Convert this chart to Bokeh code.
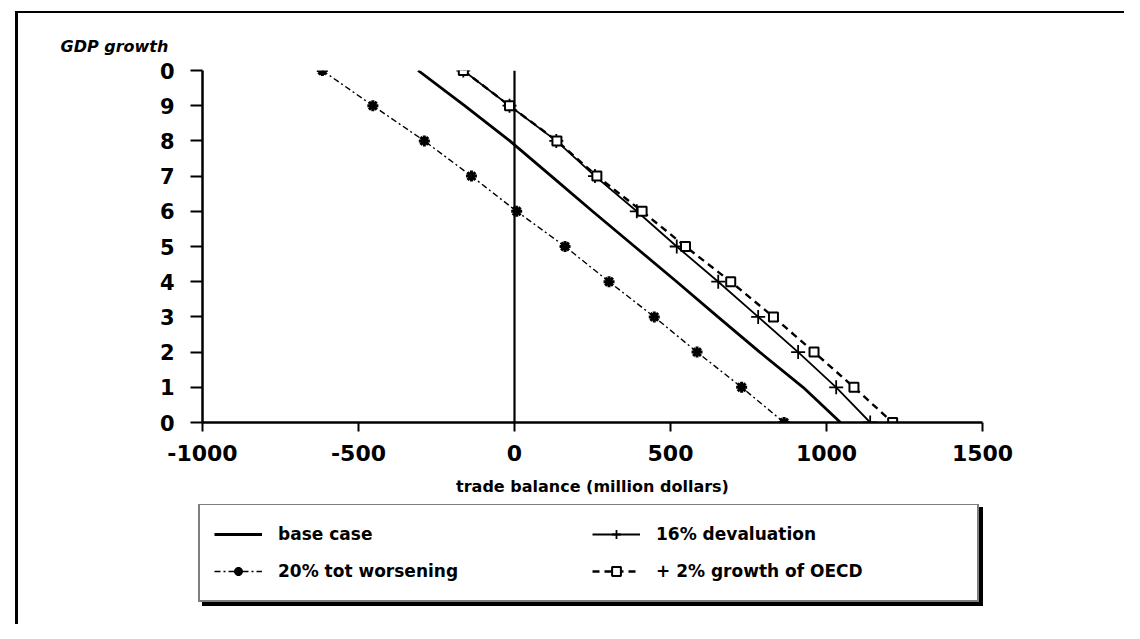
from bokeh.plotting import figure
from bokeh.models import Legend, LegendItem, Span, FixedTicker
from bokeh.layouts import column
from bokeh.embed import file_html
from bokeh.resources import INLINE

# GDP growth levels (y) and trade balance (million dollars) for each scenario
growth = [10, 9, 8, 7, 6, 5, 4, 3, 2, 1, 0]
base_case = [-309, -160, -15, 118, 250, 385, 520, 652, 786, 925, 1045]
devaluation_16 = [-164, -16, 134, 258, 392, 520, 653, 781, 909, 1031, 1140]
tot_worsening_20 = [-616, -454, -289, -138, 7, 162, 303, 448, 585, 728, 864]
oecd_growth_2 = [-164, -16, 136, 264, 409, 548, 693, 830, 960, 1088, 1212]

series_labels = ["base case", "20% tot worsening", "16% devaluation", "+ 2% growth of OECD"]

x_ticks = [-1000, -500, 0, 500, 1000, 1500]
x_tick_labels = ["-1000", "-500", "0", "500", "1000", "1500"]
y_ticks = [0, 1, 2, 3, 4, 5, 6, 7, 8, 9, 10]
y_tick_labels = ["0", "1", "2", "3", "4", "5", "6", "7", "8", "9", "0"]

FONT = "DejaVu Sans"


def draw_series(fig):
    r_base = fig.line(base_case, growth, line_color="black", line_width=2.8)
    r_dev_line = fig.line(devaluation_16, growth, line_color="black", line_width=1.8)
    r_dev_mark = fig.scatter(devaluation_16, growth, marker="cross", size=14,
                             line_color="black", line_width=1.8)
    r_tot_line = fig.line(tot_worsening_20, growth, line_color="black", line_width=1.4,
                          line_dash="6 3 2 3")
    r_tot_mark = fig.scatter(tot_worsening_20, growth, marker="asterisk", size=11,
                             line_color="black", line_width=3)
    r_oecd_line = fig.line(oecd_growth_2, growth, line_color="black", line_width=2.4,
                           line_dash="7 5")
    r_oecd_mark = fig.scatter(oecd_growth_2, growth, marker="square", size=9,
                              line_color="black", line_width=2, fill_color="white")
    return [[r_base], [r_tot_line, r_tot_mark], [r_dev_line, r_dev_mark],
            [r_oecd_line, r_oecd_mark]]


# ---------------- main chart ----------------
p = figure(width=1124, height=504, x_range=(-1000, 1500), y_range=(0, 10),
           output_backend="svg", toolbar_location=None,
           min_border_left=202, min_border_right=142,
           min_border_top=70, min_border_bottom=82)

p.grid.visible = False
p.outline_line_color = None
p.background_fill_alpha = 0
p.border_fill_alpha = 0

p.title.text = "GDP growth"
p.title.text_font = FONT
p.title.text_font_size = "16px"
p.title.text_font_style = "bold italic"
p.title.text_color = "black"
p.title.align = "left"
p.title.offset = -142
p.title.standoff = 30

for ax in (p.xaxis[0], p.yaxis[0]):
    ax.axis_line_width = 2.5
    ax.axis_line_color = "black"
    ax.major_tick_line_width = 2
    ax.major_tick_line_color = "black"
    ax.minor_tick_line_color = None
    ax.major_tick_in = 0
    ax.major_label_text_font = FONT
    ax.major_label_text_font_style = "bold"
    ax.major_label_text_color = "black"

p.xaxis.ticker = FixedTicker(ticks=x_ticks)
p.xaxis.major_label_overrides = dict(zip(x_ticks, x_tick_labels))
p.xaxis.major_tick_out = 9
p.xaxis.major_label_text_font_size = "22px"
p.xaxis.major_label_standoff = 13
p.xaxis.axis_label = "trade balance (million dollars)"
p.xaxis.axis_label_text_font = FONT
p.xaxis.axis_label_text_font_size = "16px"
p.xaxis.axis_label_text_font_style = "bold"
p.xaxis.axis_label_text_color = "black"
p.xaxis.axis_label_standoff = 13

p.yaxis.ticker = FixedTicker(ticks=y_ticks)
p.yaxis.major_label_overrides = dict(zip(y_ticks, y_tick_labels))
p.yaxis.major_tick_out = 12
p.yaxis.major_label_text_font_size = "21px"
p.yaxis.major_label_standoff = 16

p.add_layout(Span(location=0, dimension="height", line_color="black", line_width=2.2))

draw_series(p)

# ---------------- legend panel (separate canvas below the chart) ----------------
pl = figure(width=1124, height=120, x_range=(5000, 5001), y_range=(5000, 5001),
            output_backend="svg", toolbar_location=None, title=None,
            x_axis_location=None, y_axis_location=None,
            min_border_left=0, min_border_right=0, min_border_top=0, min_border_bottom=0)
try:
    pl.frame_align = False
except AttributeError:
    pass
pl.grid.visible = False
pl.outline_line_color = None
pl.background_fill_alpha = 0
pl.border_fill_alpha = 0

leg_renderers = draw_series(pl)  # same glyph styles; data lies outside this empty frame


def make_legend(loc, shadow=False):
    labels = [" "] * len(series_labels) if shadow else series_labels
    lg = Legend(items=[LegendItem(label=lab, renderers=rs)
                       for lab, rs in zip(labels, leg_renderers)],
                ncols=2, location=loc)
    lg.label_text_font = FONT
    lg.label_text_font_size = "17px"
    lg.label_text_font_style = "bold"
    lg.label_text_color = "black"
    lg.glyph_width = 48
    lg.glyph_height = 22
    lg.label_standoff = 16
    lg.label_width = 307
    lg.label_height = 30
    lg.spacing = 7
    lg.padding = 14
    lg.margin = 0
    lg.border_line_color = "black"
    lg.border_line_width = 2.2
    lg.background_fill_color = "black" if shadow else "white"
    lg.background_fill_alpha = 1.0
    return lg


pl.add_layout(make_legend((202, 18), shadow=True), "center")
pl.add_layout(make_legend((198, 22)), "center")

# page frame lines (left and top) drawn as the layout's CSS background
layout = column(p, pl, styles={
    "background-image": "linear-gradient(#000, #000), linear-gradient(#000, #000)",
    "background-size": "3px 100%, 100% 2px",
    "background-position": "15px 11px, 15px 11px",
    "background-repeat": "no-repeat",
})

open("out.html", "w").write(file_html(layout, INLINE))
